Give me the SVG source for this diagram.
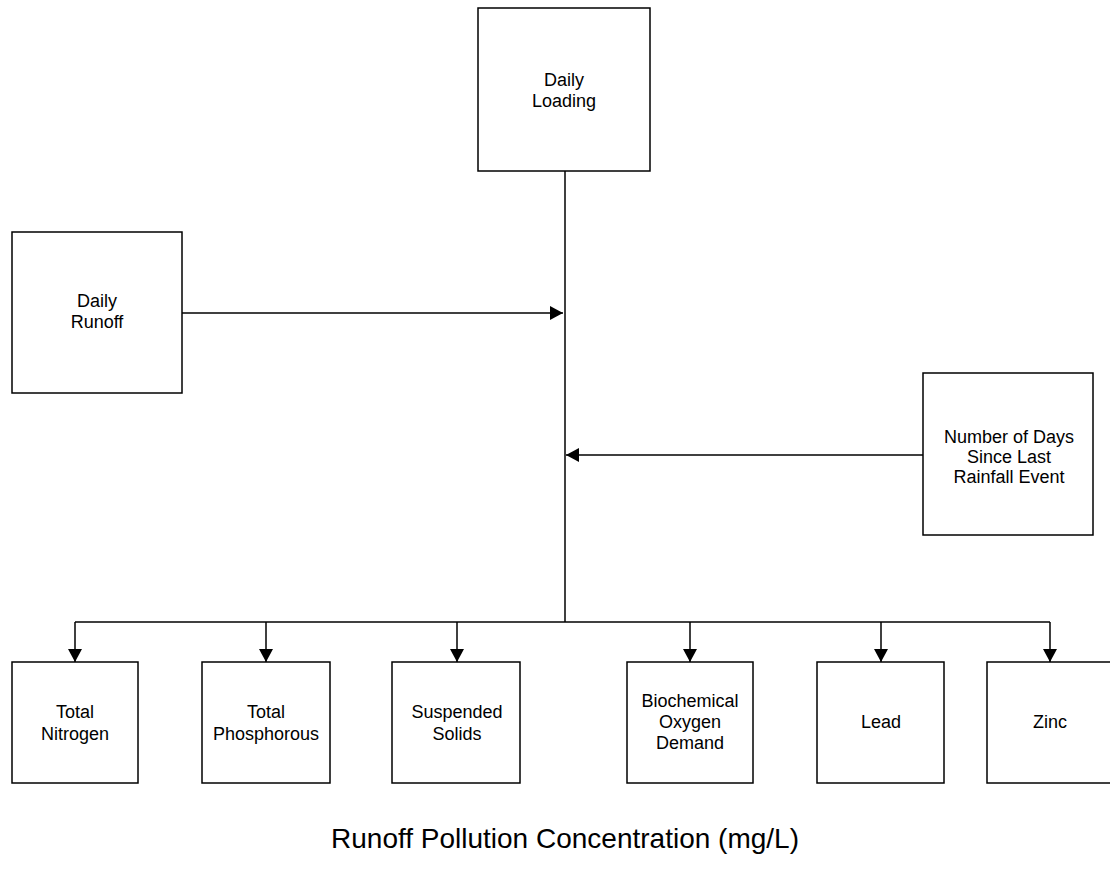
<svg xmlns="http://www.w3.org/2000/svg" width="1110" height="882" viewBox="0 0 1110 882">
<style>
.box{fill:#fff;stroke:#000;stroke-width:1.5}
.t{font-family:"Liberation Sans",Arial,sans-serif;font-size:18px;fill:#000;text-anchor:middle}
.title{font-family:"Liberation Sans",Arial,sans-serif;font-size:28px;fill:#000;text-anchor:middle}
.c{fill:none;stroke:#000;stroke-width:1.5}
</style>
<defs>
<marker id="ah" viewBox="0 0 13 14" refX="13" refY="7" markerWidth="13" markerHeight="14" markerUnits="userSpaceOnUse" orient="auto">
<path d="M0,0 L13,7 L0,14 Z" fill="#000"/>
</marker>
</defs>
<rect width="1110" height="882" fill="#fff"/>
<g id="connectors">
<line class="c" x1="565" y1="171" x2="565" y2="622" stroke-width="2"/>
<line class="c" x1="182" y1="313" x2="563" y2="313" marker-end="url(#ah)"/>
<line class="c" x1="923" y1="455" x2="566" y2="455" marker-end="url(#ah)"/>
<line class="c" x1="75" y1="622" x2="1050" y2="622"/>
<line class="c" x1="75" y1="622" x2="75" y2="662" marker-end="url(#ah)"/>
<line class="c" x1="266" y1="622" x2="266" y2="662" marker-end="url(#ah)"/>
<line class="c" x1="457" y1="622" x2="457" y2="662" stroke-width="1" marker-end="url(#ah)"/>
<line class="c" x1="690" y1="622" x2="690" y2="662" marker-end="url(#ah)"/>
<line class="c" x1="881" y1="622" x2="881" y2="662" marker-end="url(#ah)"/>
<line class="c" x1="1050" y1="622" x2="1050" y2="662" marker-end="url(#ah)"/>
</g>
<g id="daily-loading">
<rect class="box" x="478" y="8" width="172" height="163"/>
<text class="t" x="564" y="86">Daily</text>
<text class="t" x="564" y="107">Loading</text>
</g>
<g id="daily-runoff">
<rect class="box" x="12" y="232" width="170" height="161"/>
<text class="t" x="97" y="307">Daily</text>
<text class="t" x="97" y="328">Runoff</text>
</g>
<g id="days-since-rain">
<rect class="box" x="923" y="373" width="170" height="162"/>
<text class="t" x="1009" y="443">Number of Days</text>
<text class="t" x="1009" y="463">Since Last</text>
<text class="t" x="1009" y="483">Rainfall Event</text>
</g>
<g id="total-nitrogen">
<rect class="box" x="12" y="662" width="126" height="121"/>
<text class="t" x="75" y="718">Total</text>
<text class="t" x="75" y="740">Nitrogen</text>
</g>
<g id="total-phosphorous">
<rect class="box" x="202" y="662" width="128" height="121"/>
<text class="t" x="266" y="718">Total</text>
<text class="t" x="266" y="740">Phosphorous</text>
</g>
<g id="suspended-solids">
<rect class="box" x="392" y="662" width="128" height="121"/>
<text class="t" x="457" y="718">Suspended</text>
<text class="t" x="457" y="740">Solids</text>
</g>
<g id="bod">
<rect class="box" x="627" y="662" width="126" height="121"/>
<text class="t" x="690" y="707">Biochemical</text>
<text class="t" x="690" y="728">Oxygen</text>
<text class="t" x="690" y="749">Demand</text>
</g>
<g id="lead">
<rect class="box" x="817" y="662" width="127" height="121"/>
<text class="t" x="881" y="728">Lead</text>
</g>
<g id="zinc">
<rect class="box" x="987" y="662" width="126" height="121"/>
<text class="t" x="1050" y="728">Zinc</text>
</g>
<text class="title" x="565" y="848">Runoff Pollution Concentration (mg/L)</text>
</svg>
